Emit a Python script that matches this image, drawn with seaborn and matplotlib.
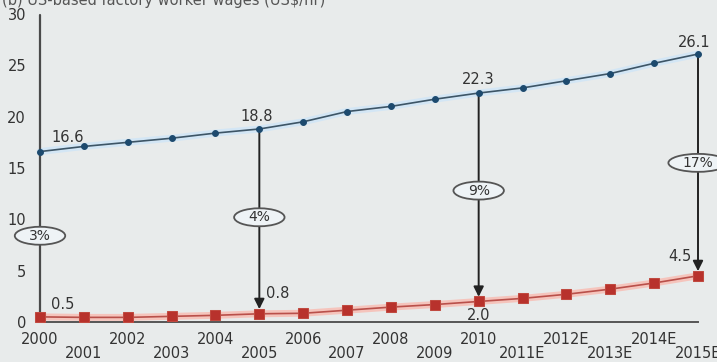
import matplotlib
matplotlib.use("Agg")
import matplotlib.pyplot as plt
from matplotlib.patches import Ellipse
import seaborn as sns
import pandas as pd

years = list(range(2000, 2016))
year_labels = ["2000", "2001", "2002", "2003", "2004", "2005", "2006", "2007",
               "2008", "2009", "2010", "2011E", "2012E", "2013E", "2014E", "2015E"]
us_wages = [16.6, 17.1, 17.5, 17.9, 18.4, 18.8, 19.5, 20.5, 21.0, 21.7, 22.3,
            22.8, 23.5, 24.2, 25.2, 26.1]
cn_wages = [0.5, 0.45, 0.45, 0.55, 0.65, 0.8, 0.85, 1.15, 1.45, 1.7, 2.0,
            2.3, 2.7, 3.2, 3.8, 4.5]
gap_years = [2000, 2005, 2010, 2015]
gap_pct = ["3%", "4%", "9%", "17%"]
yticks = [0, 5, 10, 15, 20, 25, 30]
title = "(b) US-based factory worker wages (US$/hr)"

sns.set_theme(style="white")
plt.rcParams["font.family"] = ["DejaVu Sans"]
bg = "#e8ebeb"
fig = plt.figure(figsize=(7.17, 3.62), dpi=100, facecolor=bg)
ax = fig.add_axes([40 / 717, (362 - 322) / 362, (698 - 40) / 717, (322 - 14) / 362])
ax.set_facecolor(bg)

df = pd.DataFrame({"year": years, "us": us_wages, "cn": cn_wages})

# glow lines
sns.lineplot(data=df, x="year", y="us", ax=ax, color="#d3e6f5", lw=5, zorder=2)
sns.lineplot(data=df, x="year", y="cn", ax=ax, color="#f5c4bc", lw=5, zorder=2)
sns.lineplot(data=df, x="year", y="us", ax=ax, color="#3d5566", lw=1.2,
             marker="o", markersize=4.2, markerfacecolor="#1d4a6e",
             markeredgecolor="#1d4a6e", zorder=4)
sns.lineplot(data=df, x="year", y="cn", ax=ax, color="#b9504a", lw=1.2,
             marker="s", markersize=6.5, markerfacecolor="#b8322c",
             markeredgecolor="#c04a40", zorder=4)
for l in ax.lines:
    l.set_clip_on(False)

ax.set_xlim(2000, 2015)
ax.set_ylim(0, 30)

# gap lines / arrows
lc = "#4a4a4a"
ax.plot([2000, 2000], [29.9, 0.5], color=lc, lw=1.6, zorder=3, clip_on=False)
for yr in gap_years[1:]:
    i = years.index(yr)
    ax.annotate("", xy=(yr, cn_wages[i] + 0.45), xytext=(yr, us_wages[i]),
                arrowprops=dict(arrowstyle="-|>,head_length=0.5,head_width=0.25",
                                color="#222222", lw=1.4, shrinkA=0, shrinkB=0),
                zorder=3)

pct_y = [8.4, 10.2, 12.8, 15.5]
pct_w = [1.15, 1.15, 1.15, 1.35]
for yr, t, yy, w in zip(gap_years, gap_pct, pct_y, pct_w):
    e = Ellipse((yr, yy), width=w, height=1.75, facecolor="#eef3f6",
                edgecolor="#555555", lw=1.3, zorder=5, clip_on=False)
    ax.add_patch(e)
    ax.text(yr, yy, t, ha="center", va="center", fontsize=10, color="#333333",
            zorder=6, clip_on=False)

# value labels
tc = "#333333"
fs = 10.5
ax.text(2000.25, 18.0, "16.6", ha="left", va="center", fontsize=fs, color=tc)
ax.text(2004.95, 20.0, "18.8", ha="center", va="center", fontsize=fs, color=tc)
ax.text(2010.0, 23.6, "22.3", ha="center", va="center", fontsize=fs, color=tc)
ax.text(2014.92, 27.2, "26.1", ha="center", va="center", fontsize=fs, color=tc, clip_on=False)
ax.text(2000.25, 1.75, "0.5", ha="left", va="center", fontsize=fs, color=tc)
ax.text(2005.15, 2.8, "0.8", ha="left", va="center", fontsize=fs, color=tc)
ax.text(2010.0, 0.6, "2.0", ha="center", va="center", fontsize=fs, color=tc)
ax.text(2014.85, 6.4, "4.5", ha="right", va="center", fontsize=fs, color=tc)

# axes styling
for s in ["top", "right", "left"]:
    ax.spines[s].set_visible(False)
ax.spines["bottom"].set_color("#555555")
ax.spines["bottom"].set_linewidth(1.4)

ax.set_yticks(yticks)
ax.set_yticklabels([str(v) for v in yticks])
ax.tick_params(axis="y", length=0, pad=10, labelsize=fs, labelcolor=tc)

odd = [y for y in years if y % 2 == 1]
even = [y for y in years if y % 2 == 0]
ax.set_xticks(odd)
ax.set_xticklabels([year_labels[years.index(y)] for y in odd])
ax.set_xticks(even, minor=True)
ax.set_xticklabels([year_labels[years.index(y)] for y in even], minor=True)
ax.tick_params(axis="x", which="major", length=16, width=1.4, color="#555555",
               direction="out", pad=1, labelsize=fs, labelcolor=tc)
ax.tick_params(axis="x", which="minor", length=0, pad=7, labelsize=fs, labelcolor=tc)
ax.set_xlabel("")
ax.set_ylabel("")

fig.text(0.003, 0.998, title, ha="left", va="center", fontsize=10.5, color="#555555")

fig.savefig("out.png", dpi=100, facecolor=bg)
